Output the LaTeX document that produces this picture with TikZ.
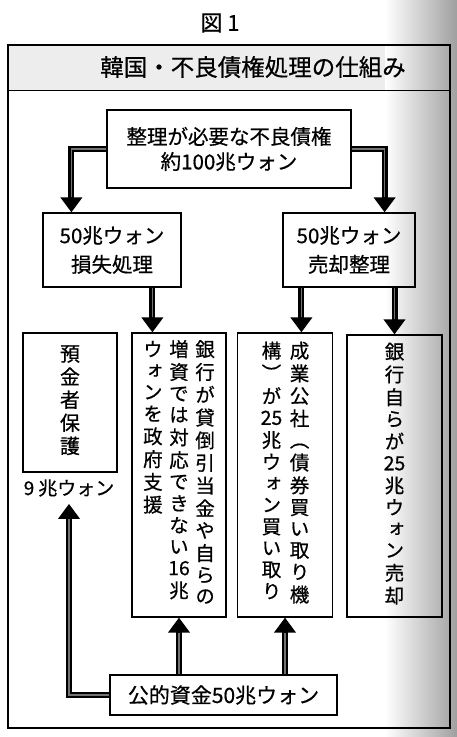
\documentclass[tikz,border=0pt]{standalone}
\usepackage{fontspec}
\newfontfamily\cjk[FakeBold=0.6]{Noto Sans CJK JP}
\newfontfamily\cjkv[RawFeature=+vert,FakeBold=0.6]{Noto Sans CJK JP}
\usetikzlibrary{arrows.meta,calc}
\newcommand{\tcol}[1]{\begin{tabular}[t]{@{}c@{}}#1\end{tabular}}
\tikzset{
  hbox/.style={draw, line width=1.2pt, inner sep=0pt, align=center,
    font=\cjk\fontsize{20.5}{25}\selectfont},
  vbox/.style={draw, line width=1.2pt, inner sep=0pt,
    font=\cjkv\fontsize{19.5}{21.3}\selectfont},
  bigarrow/.style={line width=6pt, line join=miter, black,
    -{Triangle[width=21pt,length=15pt]},
    postaction={draw, black!55, line width=1.6pt, -, shorten >=15pt}},
}
\begin{document}
\begin{tikzpicture}[x=1pt,y=-1pt]
\useasboundingbox (0,0) rectangle (457,737);
% title band and page shading
\fill[gray!14] (8,45) rectangle (450,90);
\shade[left color=white, right color=gray!75] (385,0) rectangle (457,737);
% frame
\draw[line width=1.2pt] (8,45) rectangle (450,728);
\draw[line width=1pt] (8,90) -- (450,90);
% titles
\node[font=\cjk\fontsize{22}{26}\selectfont] (fig) at (220,23) {図 1};
\node[font=\cjk\fontsize{23.5}{28}\selectfont] (title) at (253,67) {韓国・不良債権処理の仕組み};
% boxes
\node[hbox, minimum width=244pt, minimum height=78pt] (top) at (229,149)
  {整理が必要な不良債権\\約100兆ウォン};
\node[hbox, minimum width=138pt, minimum height=74pt,
  font=\cjk\fontsize{20.5}{29}\selectfont] (lm) at (112,250)
  {50兆ウォン\\損失処理};
\node[hbox, minimum width=132pt, minimum height=74pt,
  font=\cjk\fontsize{20.5}{29}\selectfont] (rm) at (349,250)
  {50兆ウォン\\売却整理};
\node[vbox, minimum width=94pt, minimum height=139pt,
  font=\cjkv\fontsize{20}{21}\selectfont] (b1) at (70,402.5)
  {\tcol{預\\金\\者\\保\\護}};
\node[font=\cjk\fontsize{19}{22}\selectfont, inner sep=0pt] (lbl) at (69,488)
  {9\hspace{4pt}兆ウォン};
\node[vbox, minimum width=94pt, minimum height=284pt] (b2) at (179,475)
  {\tcol{ウ\\ォ\\ン\\を\\政\\府\\支\\援}\hspace{5.5pt}%
   \tcol{増\\資\\で\\は\\対\\応\\で\\き\\な\\い\\16\\兆}\hspace{5.5pt}%
   \tcol{銀\\行\\が\\貸\\倒\\引\\当\\金\\や\\自\\ら\\の}};
\node[vbox, minimum width=95pt, minimum height=284pt] (b3) at (285,475)
  {\tcol{構\\）\\が\\25\\兆\\ウ\\ォ\\ン\\買\\い\\取\\り}\hspace{7.5pt}%
   \tcol{成\\業\\公\\社\\（\\債\\券\\買\\い\\取\\り\\機}};
\node[vbox, minimum width=95pt, minimum height=282pt] (b4) at (394.5,476)
  {\tcol{銀\\行\\自\\ら\\が\\25\\兆\\ウ\\ォ\\ン\\売\\却}};
\node[hbox, minimum width=227pt, minimum height=40pt,
  font=\cjk\fontsize{21}{25}\selectfont] (fund) at (223.5,695)
  {公的資金50兆ウォン};
% arrows
\draw[bigarrow] (top.west) -| ([xshift=29pt]lm.north west);
\draw[bigarrow] (top.east) -| ([xshift=-31pt]rm.north east);
\draw[bigarrow] ([xshift=110pt]lm.south west) -- ([xshift=110pt]lm.south west |- b2.north);
\draw[bigarrow] ([xshift=19pt]rm.south west) -- ([xshift=19pt]rm.south west |- b3.north);
\draw[bigarrow] (b4.north |- rm.south) -- (b4.north);
\draw[bigarrow] (b2.south |- fund.north) -- (b2.south);
\draw[bigarrow] (b3.south |- fund.north) -- (b3.south);
\draw[bigarrow] (fund.west) -| ([yshift=-7pt]lbl.south);
\end{tikzpicture}
\end{document}
